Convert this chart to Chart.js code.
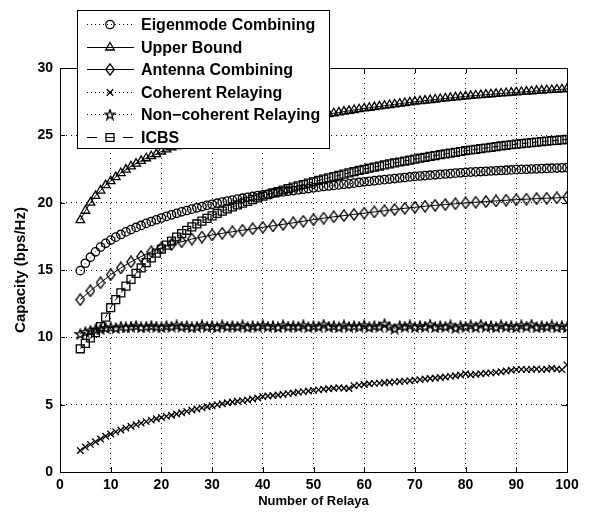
<!DOCTYPE html>
<html>
<head>
<meta charset="utf-8">
<script src="https://cdn.jsdelivr.net/npm/chart.js@4.4.0/dist/chart.umd.min.js"></script>
<style>
  html, body { margin: 0; padding: 0; background: #fff; }
  #wrap { width: 612px; height: 520px; }
</style>
</head>
<body>
<div id="wrap"><canvas id="c" width="612" height="520"></canvas></div>
<script>
// ---------- DATA ----------
const relays = [4,5,6,7,8,9,10,11,12,13,14,15,16,17,18,19,20,21,22,23,24,25,26,27,28,29,30,31,32,33,34,35,36,37,38,39,40,41,42,43,44,45,46,47,48,49,50,51,52,53,54,55,56,57,58,59,60,61,62,63,64,65,66,67,68,69,70,71,72,73,74,75,76,77,78,79,80,81,82,83,84,85,86,87,88,89,90,91,92,93,94,95,96,97,98,99,100];
const relaysEven = [4,6,8,10,12,14,16,18,20,22,24,26,28,30,32,34,36,38,40,42,44,46,48,50,52,54,56,58,60,62,64,66,68,70,72,74,76,78,80,82,84,86,88,90,92,94,96,98,100];

const eigenmode = [14.95,15.5,15.95,16.35,16.7,16.98,17.22,17.44,17.64,17.83,18.0,18.16,18.31,18.46,18.6,18.73,18.86,18.98,19.1,19.21,19.32,19.42,19.52,19.62,19.71,19.8,19.88,19.96,20.04,20.12,20.19,20.26,20.33,20.4,20.46,20.52,20.58,20.64,20.7,20.75,20.8,20.85,20.9,20.95,21.0,21.05,21.1,21.15,21.2,21.24,21.28,21.32,21.36,21.4,21.45,21.5,21.55,21.59,21.63,21.67,21.71,21.75,21.79,21.83,21.87,21.91,21.95,21.98,22.01,22.04,22.07,22.1,22.13,22.16,22.19,22.22,22.25,22.27,22.29,22.31,22.33,22.35,22.37,22.39,22.41,22.43,22.45,22.47,22.48,22.5,22.51,22.53,22.54,22.56,22.57,22.59,22.6];

const upperBound = [18.7,19.4,20.0,20.5,20.9,21.3,21.6,21.9,22.2,22.45,22.7,22.9,23.1,23.3,23.45,23.6,23.8,23.95,24.1,24.2,24.3,24.4,24.5,24.6,24.7,24.8,24.9,24.98,25.06,25.14,25.22,25.3,25.38,25.46,25.54,25.62,25.7,25.77,25.84,25.91,25.98,26.05,26.12,26.19,26.26,26.33,26.4,26.46,26.52,26.58,26.64,26.7,26.76,26.82,26.88,26.94,27.0,27.05,27.1,27.15,27.2,27.25,27.3,27.35,27.4,27.45,27.5,27.54,27.58,27.62,27.66,27.7,27.74,27.78,27.82,27.86,27.9,27.93,27.96,27.99,28.02,28.05,28.08,28.11,28.14,28.17,28.2,28.22,28.25,28.27,28.3,28.32,28.35,28.37,28.4,28.42,28.45];

const antenna = [12.8,13.45,14.05,14.65,15.15,15.6,16.0,16.35,16.65,16.9,17.1,17.3,17.45,17.6,17.72,17.84,17.95,18.06,18.17,18.28,18.39,18.5,18.62,18.74,18.85,18.95,19.04,19.13,19.22,19.31,19.4,19.49,19.58,19.66,19.73,19.8,19.86,19.92,19.98,20.03,20.08,20.13,20.18,20.22,20.26,20.3,20.33,20.36,20.4];

const coherent = [1.6,1.85,2.05,2.25,2.45,2.65,2.82,2.98,3.12,3.26,3.4,3.52,3.63,3.74,3.85,3.95,4.05,4.13,4.22,4.31,4.4,4.5,4.6,4.68,4.76,4.84,4.92,5.0,5.07,5.14,5.2,5.25,5.3,5.35,5.42,5.5,5.6,5.64,5.68,5.72,5.76,5.82,5.87,5.92,5.97,6.02,6.06,6.1,6.14,6.18,6.22,6.25,6.22,6.2,6.4,6.45,6.5,6.55,6.58,6.6,6.63,6.66,6.69,6.72,6.75,6.78,6.82,6.86,6.9,6.94,6.98,7.02,7.06,7.1,7.15,7.2,7.3,7.22,7.25,7.3,7.33,7.36,7.4,7.45,7.5,7.55,7.6,7.62,7.6,7.62,7.65,7.6,7.63,7.7,7.65,7.6,7.95];

const nonCoherent = [10.25,10.4,10.5,10.6,10.65,10.7,10.75,10.7,10.8,10.75,10.8,10.85,10.75,10.8,10.85,10.8,10.75,10.85,10.8,10.9,10.8,10.85,10.75,10.8,10.9,10.8,10.85,10.75,10.9,10.8,10.85,10.8,10.9,10.75,10.85,10.8,10.9,10.8,10.85,10.75,10.9,10.8,10.85,10.8,10.9,10.75,10.85,10.8,10.95,10.8,10.85,10.75,10.9,10.8,10.85,10.8,10.9,10.75,10.85,10.8,11.0,10.8,10.65,10.85,10.8,10.9,10.75,10.85,10.8,10.95,10.75,10.85,10.8,10.9,10.7,10.85,10.8,10.9,10.75,10.95,10.8,10.85,10.75,10.9,10.8,10.85,10.75,10.9,10.8,10.95,10.75,10.85,10.8,10.9,10.75,10.85,10.75];

const icbs = [9.15,9.55,9.95,10.35,10.8,11.5,12.2,12.8,13.3,13.8,14.3,14.75,15.15,15.55,15.9,16.25,16.55,16.85,17.15,17.45,17.7,17.95,18.2,18.42,18.63,18.83,19.02,19.2,19.37,19.53,19.68,19.83,19.97,20.1,20.23,20.36,20.48,20.6,20.72,20.83,20.94,21.05,21.15,21.25,21.35,21.45,21.55,21.65,21.75,21.85,21.94,22.03,22.12,22.21,22.3,22.39,22.48,22.56,22.64,22.72,22.8,22.88,22.95,23.02,23.09,23.16,23.23,23.3,23.37,23.44,23.5,23.56,23.62,23.68,23.74,23.8,23.86,23.91,23.96,24.01,24.06,24.11,24.16,24.21,24.26,24.3,24.34,24.38,24.42,24.46,24.5,24.54,24.57,24.6,24.63,24.66,24.7];

const seriesNames = ['Eigenmode Combining','Upper Bound','Antenna Combining','Coherent Relaying','Non\u2212coherent Relaying','ICBS'];
const xTicks = [0,10,20,30,40,50,60,70,80,90,100];
const yTicks = [0,5,10,15,20,25,30];
const xTitle = 'Number of Relaya';
const yTitle = 'Capacity (bps/Hz)';

// ---------- custom markers ----------
function makeStar(size) {
  const c = document.createElement('canvas');
  c.width = size; c.height = size;
  const g = c.getContext('2d');
  const cx = size/2, cy = size/2 + 0.5, R = size/2 - 0.8, r = R*0.4;
  g.beginPath();
  for (let i = 0; i < 10; i++) {
    const a = -Math.PI/2 + i*Math.PI/5;
    const rr = (i % 2 === 0) ? R : r;
    const px = cx + rr*Math.cos(a), py = cy + rr*Math.sin(a);
    if (i === 0) g.moveTo(px, py); else g.lineTo(px, py);
  }
  g.closePath();
  g.strokeStyle = '#000'; g.lineWidth = 1.3; g.stroke();
  return c;
}
function makeDiamond(w, h) {
  const c = document.createElement('canvas');
  c.width = w; c.height = h;
  const g = c.getContext('2d');
  g.beginPath();
  g.moveTo(w/2, 0.8); g.lineTo(w-0.8, h/2); g.lineTo(w/2, h-0.8); g.lineTo(0.8, h/2);
  g.closePath();
  g.strokeStyle = '#000'; g.lineWidth = 1.3; g.stroke();
  return c;
}
const starImg = makeStar(12);
const diamondImg = makeDiamond(10, 13);

const FONT = "'Liberation Sans', Arial, Helvetica, sans-serif";

const styles = [
  { style: 'circle',   radius: 4.2, dash: [1,3] },
  { style: 'triangle', radius: 5,   dash: [] },
  { style: diamondImg, radius: 5,   dash: [] },
  { style: 'crossRot', radius: 4.6, dash: [1,3] },
  { style: starImg,    radius: 5,   dash: [1,3] },
  { style: 'rect',     radius: 5.6, dash: [6,4] }
];

function pts(xs, ys) { return xs.map((x, i) => ({ x: x, y: ys[i] })); }

const seriesData = [
  pts(relays, eigenmode),
  pts(relays, upperBound),
  pts(relaysEven, antenna),
  pts(relays, coherent),
  pts(relays, nonCoherent),
  pts(relays, icbs)
];

const datasets = seriesNames.map((name, i) => ({
  label: name,
  data: seriesData[i],
  borderColor: '#000',
  backgroundColor: 'rgba(0,0,0,0)',
  borderWidth: 1,
  borderDash: styles[i].dash,
  pointStyle: styles[i].style,
  pointRadius: styles[i].radius,
  pointBorderColor: '#000',
  pointBackgroundColor: 'rgba(0,0,0,0)',
  pointBorderWidth: 1.3,
  pointHoverRadius: styles[i].radius,
  tension: 0,
  fill: false
}));

// ---------- plugins ----------
const boxPlugin = {
  id: 'boxPlugin',
  afterDatasetsDraw(chart) {
    const { ctx, chartArea: a, scales } = chart;
    ctx.save();
    ctx.strokeStyle = '#000';
    ctx.lineWidth = 1;
    ctx.setLineDash([]);
    ctx.strokeRect(a.left + 0.5, a.top + 0.5, a.right - a.left, a.bottom - a.top);
    const tl = 5;
    ctx.beginPath();
    xTicks.forEach(v => {
      const px = Math.round(scales.x.getPixelForValue(v)) + 0.5;
      ctx.moveTo(px, a.bottom); ctx.lineTo(px, a.bottom - tl);
      ctx.moveTo(px, a.top); ctx.lineTo(px, a.top + tl);
    });
    yTicks.forEach(v => {
      const py = Math.round(scales.y.getPixelForValue(v)) + 0.5;
      ctx.moveTo(a.left, py); ctx.lineTo(a.left + tl, py);
      ctx.moveTo(a.right, py); ctx.lineTo(a.right - tl, py);
    });
    ctx.stroke();
    ctx.restore();
  }
};

const legendPlugin = {
  id: 'legendPlugin',
  afterDraw(chart) {
    const ctx = chart.ctx;
    const bx = 77, by = 10, bw = 252, bh = 138;
    ctx.save();
    ctx.fillStyle = '#fff';
    ctx.fillRect(bx, by, bw, bh);
    ctx.strokeStyle = '#000';
    ctx.lineWidth = 1;
    ctx.setLineDash([]);
    ctx.strokeRect(bx + 0.5, by + 0.5, bw, bh);
    ctx.font = 'bold 16px ' + FONT;
    ctx.textBaseline = 'middle';
    ctx.textAlign = 'left';
    seriesNames.forEach((name, i) => {
      const y = Math.round(24 + i * 22.5) + 0.5;
      const st = styles[i];
      ctx.strokeStyle = '#000';
      ctx.lineWidth = 1;
      ctx.setLineDash(i === 5 ? [10, 8] : st.dash);
      ctx.beginPath();
      ctx.moveTo(87, y); ctx.lineTo(134, y);
      ctx.stroke();
      ctx.setLineDash([]);
      ctx.lineWidth = 1.3;
      ctx.fillStyle = 'rgba(0,0,0,0)';
      Chart.helpers.drawPoint(ctx, { pointStyle: st.style, radius: st.radius, borderWidth: 1.3, rotation: 0 }, 110, y);
      ctx.fillStyle = '#000';
      ctx.fillText(name, 141, y + 1);
    });
    ctx.restore();
  }
};

// ---------- chart ----------
Chart.defaults.color = '#000';
Chart.defaults.font.family = FONT;

new Chart(document.getElementById('c'), {
  type: 'line',
  data: { datasets: datasets },
  options: {
    responsive: false,
    animation: false,
    events: [],
    layout: { padding: { top: 68, right: 45, left: 0, bottom: 0 } },
    plugins: { legend: { display: false }, tooltip: { enabled: false } },
    scales: {
      x: {
        type: 'linear',
        min: 0, max: 100,
        afterFit(s) { s.height = 48; },
        afterBuildTicks(s) { s.ticks = xTicks.map(v => ({ value: v })); },
        ticks: { font: { size: 14, weight: 'bold' }, padding: 5, maxRotation: 0, autoSkip: false },
        grid: { color: '#000', lineWidth: 1, drawTicks: false },
        border: { display: true, color: '#000', width: 1, dash: [1, 4] },
        title: { display: true, text: xTitle, font: { size: 13, weight: 'bold' }, padding: { top: 0, bottom: 11 } }
      },
      y: {
        type: 'linear',
        min: 0, max: 30,
        afterFit(s) { s.width = 60; },
        afterBuildTicks(s) { s.ticks = yTicks.map(v => ({ value: v })); },
        ticks: { font: { size: 14, weight: 'bold' }, padding: 7 },
        grid: { color: '#000', lineWidth: 1, drawTicks: false },
        border: { display: true, color: '#000', width: 1, dash: [1, 4] },
        title: { display: true, text: yTitle, font: { size: 15, weight: 'bold' }, padding: { top: 12, bottom: 0 } }
      }
    }
  },
  plugins: [boxPlugin, legendPlugin]
});
</script>
</body>
</html>
